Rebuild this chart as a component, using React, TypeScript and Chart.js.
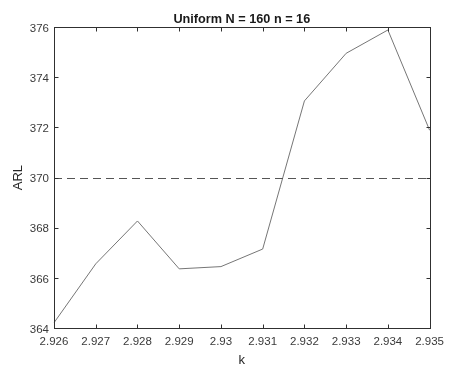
import React, { useEffect, useRef } from "react";
import { Chart, registerables } from "chart.js";

Chart.register(...registerables);

const kValues = ["2.926", "2.927", "2.928", "2.929", "2.93", "2.931", "2.932", "2.933", "2.934", "2.935"];
const arlValues = [364.21, 366.56, 368.27, 366.36, 366.45, 367.15, 373.06, 374.96, 375.89, 371.89];
const targetARL = 370;
const yMin = 364;
const yMax = 376;
const yStep = 2;
const titleText = "Uniform N = 160 n = 16";
const xTitle = "k";
const yTitle = "ARL";

const FONT = "'Liberation Sans', Arial, Helvetica, sans-serif";

const framePlugin = {
  id: "matlabFrame",
  afterDatasetsDraw(chart: any) {
    const { ctx, chartArea, scales } = chart;
    const { left, right, top, bottom } = chartArea;
    const x = scales.x;
    const y = scales.y;
    ctx.save();
    // dashed target line
    const yy = Math.round(y.getPixelForValue(targetARL)) + 0.5;
    ctx.strokeStyle = "#555555";
    ctx.lineWidth = 1;
    ctx.setLineDash([8, 5]);
    ctx.beginPath();
    ctx.moveTo(left, yy);
    ctx.lineTo(right, yy);
    ctx.stroke();
    ctx.setLineDash([]);
    // frame
    ctx.strokeStyle = "#303030";
    ctx.lineWidth = 1;
    const l = Math.round(left) + 0.5;
    const r = Math.round(right) + 0.5;
    const t = Math.round(top) + 0.5;
    const b = Math.round(bottom) + 0.5;
    ctx.strokeRect(l, t, r - l, b - t);
    // ticks (inward)
    const tl = 4;
    ctx.beginPath();
    x.ticks.forEach((_: any, i: number) => {
      const px = Math.round(x.getPixelForTick(i)) + 0.5;
      ctx.moveTo(px, b);
      ctx.lineTo(px, b - tl);
      ctx.moveTo(px, t);
      ctx.lineTo(px, t + tl);
    });
    y.ticks.forEach((_: any, i: number) => {
      const py = Math.round(y.getPixelForTick(i)) + 0.5;
      ctx.moveTo(l, py);
      ctx.lineTo(l + tl, py);
      ctx.moveTo(r, py);
      ctx.lineTo(r - tl, py);
    });
    ctx.stroke();
    ctx.restore();
  },
};

export default function App() {
  const ref = useRef<HTMLCanvasElement | null>(null);
  useEffect(() => {
    if (!ref.current) return;
    const chart = new Chart(ref.current, {
      type: "line",
      data: {
        labels: kValues,
        datasets: [
          {
            data: arlValues,
            borderColor: "#767676",
            borderWidth: 1,
            pointRadius: 0,
            tension: 0,
            fill: false,
          },
        ],
      },
      options: {
        animation: false,
        responsive: false,
        devicePixelRatio: 1,
        layout: { padding: { left: 0, right: 16, top: 0, bottom: 0 } },
        plugins: {
          legend: { display: false },
          tooltip: { enabled: false },
          title: {
            display: true,
            text: titleText,
            fullSize: false,
            color: "#1a1a1a",
            font: { family: FONT, size: 12.7, weight: "bold", lineHeight: 1.2 },
            padding: { top: 12, bottom: 0 },
          },
        },
        scales: {
          x: {
            type: "category",
            offset: false,
            grid: { display: false, drawTicks: false, tickLength: 0 },
            border: { display: false },
            ticks: {
              color: "#3a3a3a",
              font: { family: FONT, size: 11.5 },
              padding: 7,
              maxRotation: 0,
              autoSkip: false,
            },
            title: {
              display: true,
              text: xTitle,
              color: "#262626",
              font: { family: FONT, size: 13, lineHeight: 1.2 },
              padding: { top: 0, bottom: 1 },
            },
            afterFit: (s: any) => {
              s.height = 41;
            },
          },
          y: {
            type: "linear",
            min: yMin,
            max: yMax,
            grid: { display: false, drawTicks: false, tickLength: 0 },
            border: { display: false },
            ticks: {
              stepSize: yStep,
              color: "#3a3a3a",
              font: { family: FONT, size: 11.5 },
              padding: 5,
              labelOffset: 1.5,
            },
            title: {
              display: true,
              text: yTitle,
              color: "#262626",
              font: { family: FONT, size: 13, lineHeight: 1.2 },
              padding: { top: 11, bottom: 0 },
            },
            afterFit: (s: any) => {
              s.width = 54;
            },
          },
        },
      },
      plugins: [framePlugin],
    } as any);
    return () => chart.destroy();
  }, []);
  return (
    <div style={{ position: "fixed", left: 0, top: 0, width: 451, height: 369, background: "#ffffff" }}>
      <canvas ref={ref} width={451} height={369} style={{ display: "block", width: 451, height: 369 }} />
    </div>
  );
}
